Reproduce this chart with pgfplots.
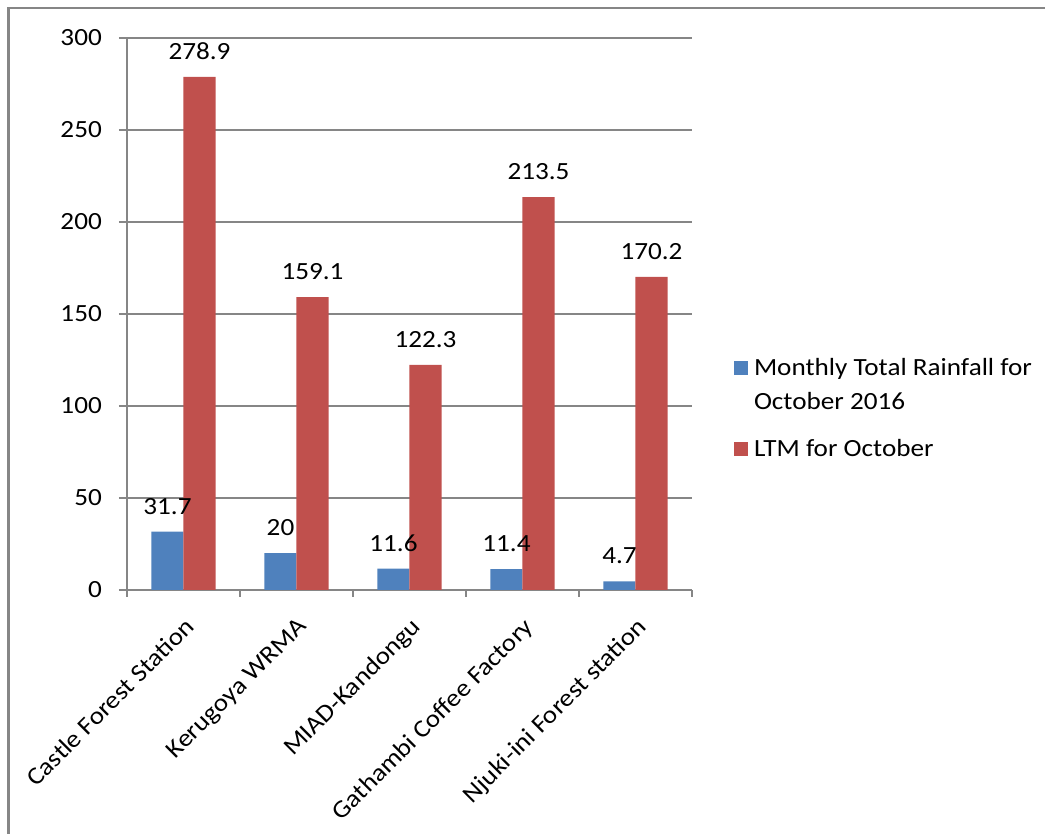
\documentclass[border=0pt]{standalone}
\usepackage{pgfplots}
\pgfplotsset{compat=1.18}
\usepackage{fontspec}
\setmainfont{Carlito}[FakeStretch=1.1]
\definecolor{barblue}{HTML}{4F81BD}
\definecolor{barred}{HTML}{C0504D}
\definecolor{axgray}{HTML}{868686}
\newcommand\fs{\fontsize{24.7}{30}\selectfont}
\begin{document}
\begin{tikzpicture}[x=1pt,y=1pt]
\useasboundingbox (0,0) rectangle (1045,834);
\draw[axgray, line width=2.6pt] (8.5,0) -- (8.5,826) -- (1045,826);
\begin{axis}[
  at={(127pt,244pt)}, anchor=south west,
  scale only axis, width=565pt, height=552pt,
  xmin=-0.5, xmax=4.5, ymin=0, ymax=300,
  axis x line*=bottom, axis y line*=left,
  axis line style={axgray, line width=1.3pt, -},
  ytick={0,50,...,300}, ymajorgrids,
  major grid style={axgray, line width=1.3pt},
  tick align=outside, major tick length=8pt, minor tick length=7pt,
  tick style={axgray, line width=1.3pt},
  xtick={0,1,2,3,4},
  xticklabels={Castle Forest Station, Kerugoya WRMA, MIAD-Kandongu, Gathambi Coffee Factory, Njuki-ini Forest station},
  minor xtick={-0.5,0.5,1.5,2.5,3.5,4.5},
  major x tick style={draw=none},
  xticklabel style={font=\fs, inner sep=0pt, yshift=-18pt, rotate=45, anchor=north east},
  yticklabel style={font=\fs, inner sep=0pt, xshift=-17pt},
  /pgf/number format/assume math mode=true,
  ybar, bar width=32pt,
  every node near coord/.append style={font=\fs, inner sep=0pt, yshift=17pt, text=black},
  legend style={draw=none, fill=none, inner sep=0pt, outer sep=0pt,
    at={(axis description cs:1.07434,0.4239)}, anchor=north west,
    font=\fs, cells={anchor=base west}, nodes={inner sep=0pt}, column sep=6pt, row sep=0pt},
  legend image code/.code={\fill[#1] (0pt,0.5pt) rectangle (14pt,14.5pt);},
]
\addplot[fill=barblue, draw=none, bar shift=-16pt] coordinates {(0,31.7) (1,20) (2,11.6) (3,11.4) (4,4.7)};
\addlegendentry[text height=20pt, text depth=14pt]{Monthly Total Rainfall for}
\addlegendimage{empty legend}
\addlegendentry[text height=20pt, text depth=27pt]{October 2016}
\addplot[fill=barred, draw=none, bar shift=16pt, nodes near coords] coordinates {(0,278.9) (1,159.1) (2,122.3) (3,213.5) (4,170.2)};
\addlegendentry[text height=20pt, text depth=5pt]{LTM for October}
\addplot[forget plot, fill=none, draw=none, bar shift=-16pt, nodes near coords] coordinates {(0,31.7) (1,20) (2,11.6) (3,11.4) (4,4.7)};
\end{axis}
\end{tikzpicture}
\end{document}
